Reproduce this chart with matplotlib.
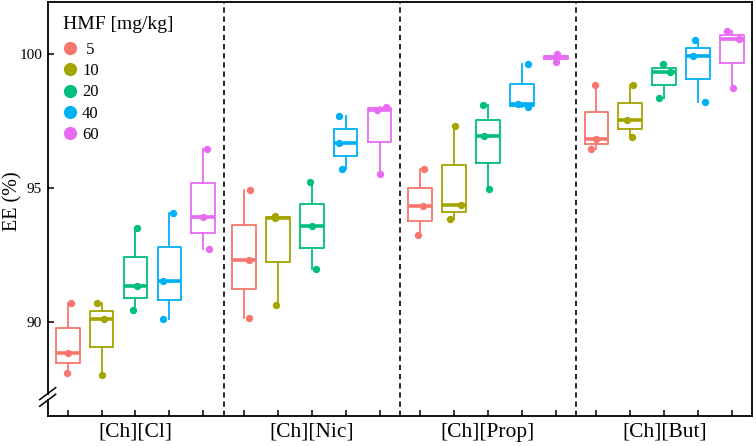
import matplotlib
matplotlib.use("Agg")
import matplotlib.pyplot as plt
from matplotlib.lines import Line2D
import numpy as np

plt.rcParams['font.family'] = ['Liberation Serif', 'DejaVu Serif']

groups = ["[Ch][Cl]", "[Ch][Nic]", "[Ch][Prop]", "[Ch][But]"]
levels = ["5", "10", "20", "40", "60"]
colors = ["#F8766D", "#A3A500", "#00BF7D", "#00B0F6", "#E76BF3"]

# EE (%) values, three replicates per HMF level
ee_cl = [[90.71, 88.84, 88.10], [90.71, 90.10, 88.00], [93.50, 91.34, 90.44],
         [94.07, 91.52, 90.10], [96.43, 93.91, 92.72]]
ee_nic = [[94.90, 92.30, 90.13], [93.96, 93.86, 90.62], [95.20, 93.57, 91.96],
          [97.69, 96.66, 95.70], [98.02, 97.91, 95.51]]
ee_prop = [[95.69, 94.32, 93.22], [97.31, 94.35, 93.82], [98.10, 96.92, 94.95],
           [99.62, 98.11, 98.00], [99.98, 99.88, 99.70]]
ee_but = [[98.84, 96.81, 96.44], [98.84, 97.51, 96.90], [99.62, 99.33, 98.36],
          [100.52, 99.93, 98.21], [100.84, 100.56, 98.72]]
all_data = [ee_cl, ee_nic, ee_prop, ee_but]

# horizontal jitter of the points
jitter = [
    [[0.10, 0.00, -0.03], [-0.14, 0.07, 0.00], [0.03, 0.03, -0.06], [0.10, -0.19, -0.19], [0.10, 0.00, 0.16]],
    [[0.18, 0.16, 0.16], [-0.07, -0.07, -0.04], [-0.05, 0.00, 0.13], [-0.19, -0.19, -0.10], [0.19, -0.08, 0.02]],
    [[0.11, 0.09, -0.05], [0.04, 0.19, -0.12], [-0.14, -0.12, 0.02], [0.17, -0.11, 0.19], [0.05, 0.03, 0.01]],
    [[-0.04, 0.00, -0.15], [0.09, -0.10, 0.05], [-0.05, 0.17, -0.14], [-0.09, -0.16, 0.19], [-0.15, 0.21, 0.03]],
]

W, H = 756, 446
fig = plt.figure(figsize=(W / 100, H / 100), dpi=100)
ax = fig.add_axes([47.7 / W, 1 - 416 / H, (752 - 47.7) / W, (416 - 2) / H])

gstep = 5.2
tick_pos, tick_lab = [], []
for gi, gdata in enumerate(all_data):
    for li, vals in enumerate(gdata):
        pos = gi * gstep + li
        c = colors[li]
        ax.boxplot([vals], positions=[pos], widths=0.7, whis=(0, 100),
                   showcaps=False, showfliers=False, patch_artist=False,
                   boxprops=dict(color=c, linewidth=1.3),
                   whiskerprops=dict(color=c, linewidth=1.3),
                   medianprops=dict(color=c, linewidth=2.6, solid_capstyle='butt'),
                   manage_ticks=False, zorder=2)
        xs = [pos + j for j in jitter[gi][li]]
        ax.scatter(xs, vals, s=28, color=c, zorder=3, linewidths=0)
        tick_pos.append(pos)
        tick_lab.append(groups[gi] if li == 2 else "")
    if gi < len(all_data) - 1:
        ax.axvline(gi * gstep + 4.6, color='black', linestyle=(0, (3.2, 2.3)),
                   linewidth=1.2, zorder=1)

ax.set_xlim(-0.59, 3 * gstep + 4 + 0.59)
ax.set_ylim(86.48, 101.93)
ax.set_xticks(tick_pos)
ax.set_xticklabels(tick_lab, fontsize=15.5)
ax.set_yticks([90, 95, 100])
ax.set_yticklabels(["90", "95", "100"], fontsize=11)
ax.tick_params(axis='both', direction='in', length=4, width=1.1, color='black')
ax.tick_params(axis='x', pad=5)
ax.tick_params(axis='y', pad=4)
ax.set_ylabel("EE (%)", fontsize=14.5)
ax.yaxis.set_label_coords((13 - 47.7) / (752 - 47.7), 0.52)
ax.yaxis.label.set_verticalalignment('center')

for s in ax.spines.values():
    s.set_linewidth(1.3)
    s.set_color('black')

# axis break on left spine
ax.spines['left'].set_visible(False)
axw = 752 - 47.7
axh = 416 - 2
lo, hi = 0.038, 0.054
ax.plot([0, 0], [0, lo], transform=ax.transAxes, color='black', lw=1.3, clip_on=False, zorder=5)
ax.plot([0, 0], [hi, 1], transform=ax.transAxes, color='black', lw=1.3, clip_on=False, zorder=5)
for yc in (lo, hi):
    ax.plot([-8 / axw, 8 / axw], [yc - 6 / axh, yc + 6 / axh], transform=ax.transAxes,
            color='black', lw=1.1, clip_on=False, zorder=5)

handles = [Line2D([], [], marker='o', linestyle='', markersize=9.5, color=c,
                  markeredgewidth=0) for c in colors]
labels = [" 5", "10", "20", "40", "60"]
leg = ax.legend(handles, labels, title="HMF [mg/kg]", loc='upper left',
                frameon=False, fontsize=12, title_fontsize=14,
                handlelength=0.8, handletextpad=0.35, labelspacing=0.32,
                borderaxespad=0.3, bbox_to_anchor=(0.005, 0.995))
leg._legend_box.align = "left"
leg._legend_box.sep = 6.5

fig.savefig("out.png", dpi=100)
